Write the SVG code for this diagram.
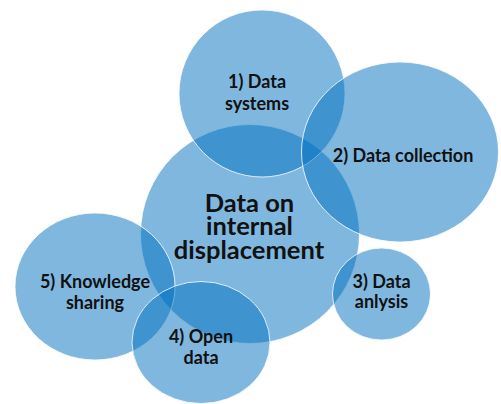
<svg xmlns="http://www.w3.org/2000/svg" width="501" height="404" viewBox="0 0 501 404">
<style>
.c{fill:#0070C0;fill-opacity:0.5;stroke:#ffffff;stroke-opacity:0.8;stroke-width:1}
.t{font-family:Lato,"Open Sans",sans-serif;font-weight:bold;font-size:18px;fill:#111111;text-anchor:middle}
.big{font-size:25.5px}
</style>
<rect width="501" height="404" fill="#ffffff"/>
<g id="center"><circle class="c" cx="250" cy="234" r="109.5"/></g>
<g id="n1"><ellipse class="c" cx="262" cy="93.5" rx="83" ry="83.5"/></g>
<g id="n2"><ellipse class="c" cx="400" cy="152" rx="98.5" ry="90"/></g>
<g id="n3"><ellipse class="c" cx="381.5" cy="294" rx="49" ry="46"/></g>
<g id="n5"><ellipse class="c" cx="95" cy="286.5" rx="80" ry="73.5"/></g>
<g id="n4"><ellipse class="c" cx="201" cy="342.5" rx="69" ry="61"/></g>
<g id="labels">
<text class="t big" x="249.5" y="211.5">Data on</text>
<text class="t big" x="249.5" y="235">internal</text>
<text class="t big" x="249" y="258.5">displacement</text>
<text class="t" x="257" y="87.5">1) Data</text>
<text class="t" x="257" y="109.5">systems</text>
<text class="t" x="403" y="161.5">2) Data collection</text>
<text class="t" x="381.5" y="288">3) Data</text>
<text class="t" x="381.5" y="308">anlysis</text>
<text class="t" x="201" y="342.5">4) Open</text>
<text class="t" x="201" y="364">data</text>
<text class="t" x="95" y="287.5">5) Knowledge</text>
<text class="t" x="95" y="308.5">sharing</text>
</g>
</svg>
